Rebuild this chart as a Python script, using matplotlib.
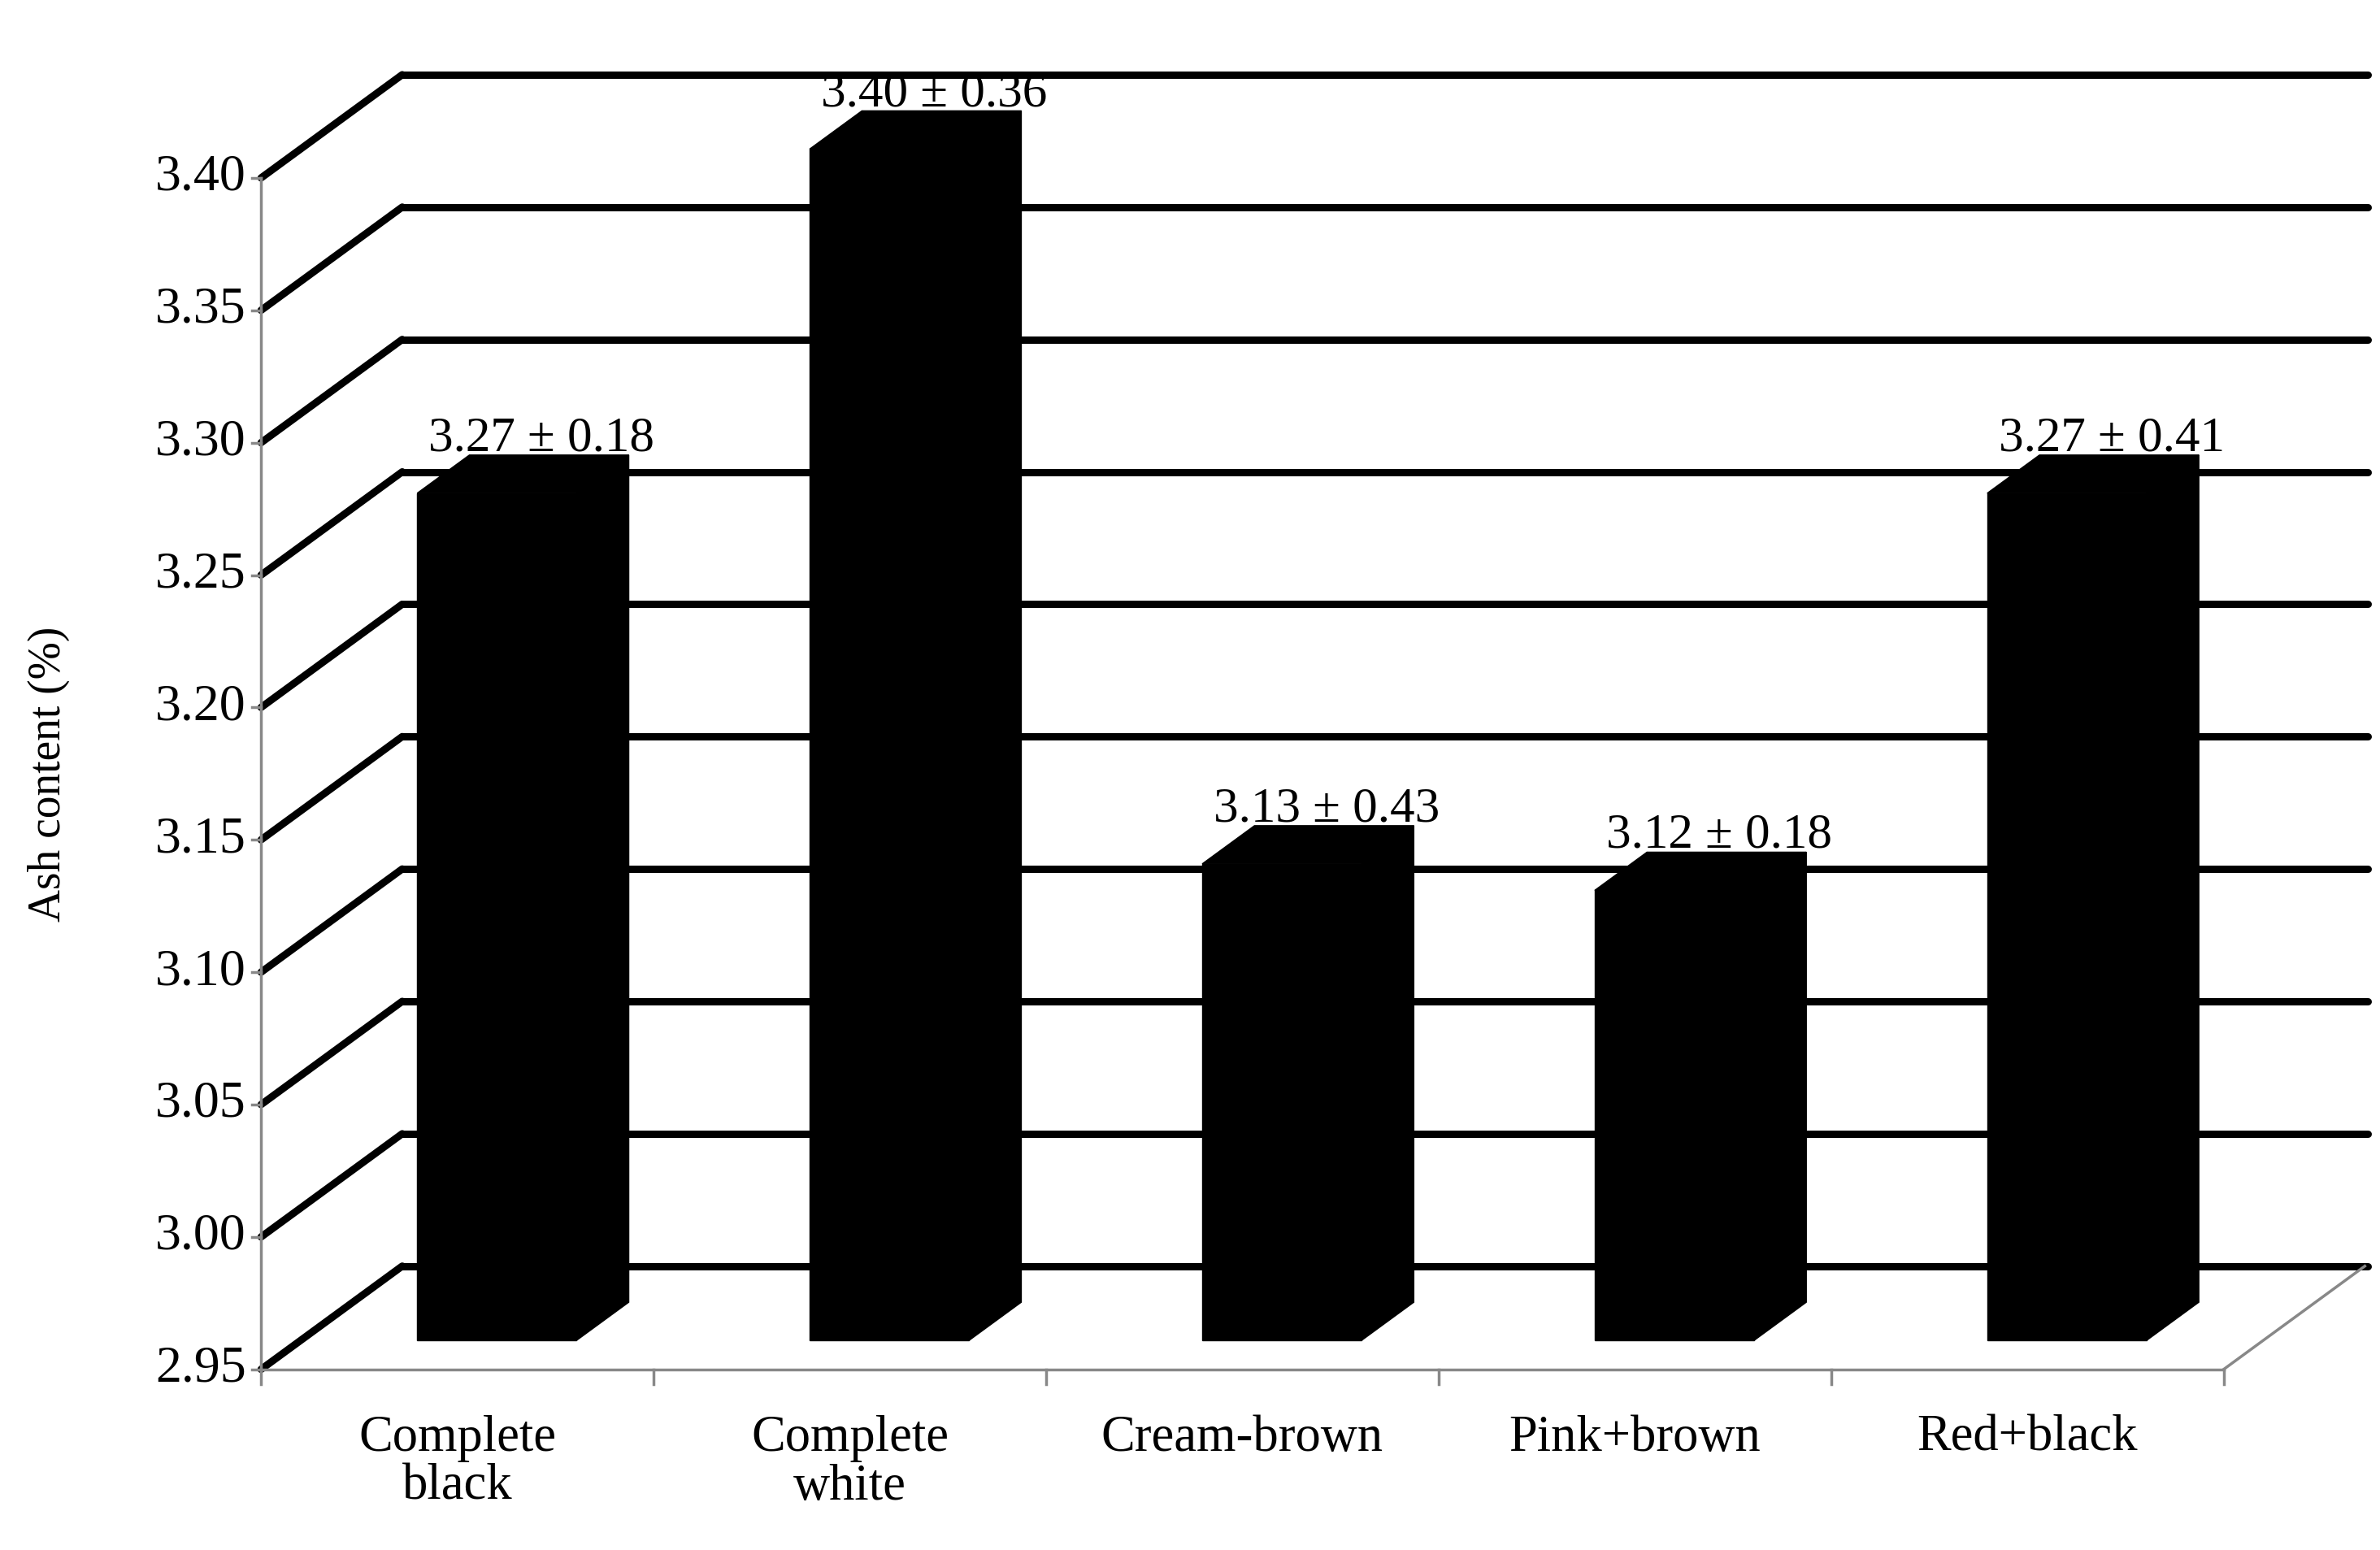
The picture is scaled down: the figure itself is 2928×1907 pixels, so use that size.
import matplotlib.pyplot as plt
from matplotlib.patches import Polygon
import numpy as np

# Chart data
categories = ['Complete\nblack', 'Complete\nwhite', 'Cream-brown', 'Pink+brown', 'Red+black']
values = [3.27, 3.40, 3.13, 3.12, 3.27]
errors = [0.18, 0.36, 0.43, 0.18, 0.41]
yticks = [2.95, 3.00, 3.05, 3.10, 3.15, 3.20, 3.25, 3.30, 3.35, 3.40]

# Oblique projection (reference pixel space, 1568 x 1021)
X0, X1 = 172, 1465
Y0, PX_PER_UNIT = 902, 1744.0
DX, DY = 93, -68
VMIN = 2.95
SERIF = 'Liberation Serif'


def proj(x, v, depth):
    """Front plane x, value v, depth 0..1 -> pixel coords."""
    return x + DX * depth, Y0 - (v - VMIN) * PX_PER_UNIT + DY * depth


fig = plt.figure(figsize=(29.28, 19.07), dpi=100)
ax = fig.add_axes([0, 0, 1, 1])
ax.set_xlim(0, 1568)
ax.set_ylim(1021, 0)
ax.axis('off')

# Walls
for v in yticks:
    xa, ya = proj(X0, v, 0)
    xb, yb = proj(X0, v, 1)
    ax.plot([xa, xb], [ya, yb], color='black', lw=6.5, solid_capstyle='round', zorder=2)
    ax.plot([xb, 1560], [yb, yb], color='black', lw=6.5, solid_capstyle='round', zorder=2)
    ax.plot([X0 - 6, X0], [ya, ya], color='#888888', lw=2.5, zorder=3)
    ax.text(X0 - 10, ya, '%.2f' % v, ha='right', va='center', fontsize=46, family=SERIF)

# Front axis and floor
ax.plot([X0, X0], [proj(X0, yticks[-1], 0)[1], Y0], color='#888888', lw=2.5, zorder=3)
ax.plot([X0, X1], [Y0, Y0], color='#888888', lw=2.5, zorder=3)
ax.plot([X1, X1 + DX], [Y0, Y0 + DY], color='#888888', lw=2.5, zorder=3)

n = len(categories)
slot = (X1 - X0) / n
for i in range(n + 1):
    xt = X0 + i * slot
    ax.plot([xt, xt], [Y0, Y0 + 10], color='#888888', lw=2.5, zorder=3)

# Bars
bw, d0, d1 = 105, 0.28, 0.65
for i, (v, e) in enumerate(zip(values, errors)):
    xc = X0 + (i + 0.5) * slot
    xl, xr = xc - bw / 2, xc + bw / 2
    front = [proj(xl, VMIN, d0), proj(xr, VMIN, d0), proj(xr, v, d0), proj(xl, v, d0)]
    top = [proj(xl, v, d0), proj(xr, v, d0), proj(xr, v, d1), proj(xl, v, d1)]
    side = [proj(xr, VMIN, d0), proj(xr, VMIN, d1), proj(xr, v, d1), proj(xr, v, d0)]
    for pts in (front, top, side):
        ax.add_patch(Polygon(pts, closed=True, facecolor='black', edgecolor='black',
                             lw=1, zorder=4))
    lx, ly = proj(xc + 5, v, d1)
    ax.text(lx - 10, ly + 4, '%.2f ± %.2f' % (v, e), ha='center', va='bottom',
            fontsize=44, family=SERIF, zorder=5)
    ax.text(xc, 932, categories[i], ha='center', va='top', fontsize=45,
            family=SERIF, linespacing=1.05)

ax.text(32, 510, 'Ash content (%)', rotation=90, ha='center', va='center',
        fontsize=40, family=SERIF)

fig.savefig('out.png', dpi=100)
